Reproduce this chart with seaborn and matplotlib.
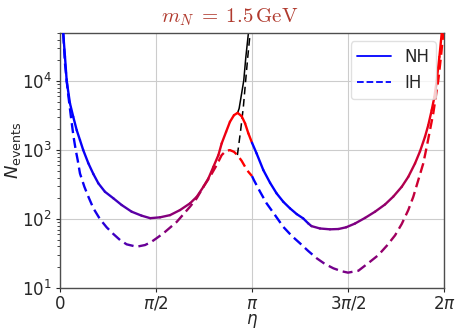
import numpy as np
import matplotlib
matplotlib.use('Agg')
import matplotlib.pyplot as plt
from matplotlib.collections import LineCollection
from matplotlib.lines import Line2D
import seaborn as sns

# ---------------- data (eta given in units of pi) ----------------
# *_mix: colour value, 0 = blue ... 1 = red
nh_a_eta = [0.017, 0.026, 0.035, 0.052, 0.069, 0.087, 0.104, 0.121, 0.148, 0.174, 0.20,
            0.234, 0.278, 0.321, 0.373, 0.425, 0.47, 0.521, 0.573, 0.625, 0.677, 0.712,
            0.747, 0.773, 0.799, 0.825, 0.842, 0.865, 0.885, 0.906, 0.925, 0.946, 0.964,
            0.981, 1.0]
nh_a_n = [49000, 22500, 10000, 4750, 3040, 1950, 1400, 1000, 641, 449, 329,
          249, 200, 160, 128, 112, 103, 106, 114, 135, 169, 210,
          294, 389, 573, 847, 1250, 1840, 2570, 3210, 3470, 3110, 2440,
          1750, 1280]
nh_a_mix = [0.0, 0.0, 0.0, 0.0, 0.0, 0.01, 0.02, 0.03, 0.05, 0.07, 0.10,
            0.15, 0.22, 0.28, 0.33, 0.39, 0.44, 0.49, 0.53, 0.57, 0.62, 0.67,
            0.72, 0.76, 0.80, 0.86, 0.90, 0.94, 0.97, 0.99, 1.0, 1.0, 1.0,
            1.0, 1.0]

nh_b_eta = [1.0, 1.024, 1.059, 1.094, 1.128, 1.163, 1.198, 1.233, 1.267, 1.293, 1.31,
            1.354, 1.406, 1.45, 1.49, 1.536, 1.589, 1.641, 1.693, 1.736, 1.78, 1.814,
            1.849, 1.875, 1.901, 1.918, 1.936, 1.95, 1.962, 1.976, 1.988]
nh_b_n = [1280, 895, 513, 336, 236, 178, 143, 118, 102, 86.5, 79,
          73, 71, 71.7, 75.9, 86, 104, 128, 163, 212, 294, 410,
          641, 960, 1560, 2300, 3800, 5920, 10200, 22500, 49000]
nh_b_mix = [0.0, 0.0, 0.0, 0.0, 0.0, 0.01, 0.02, 0.03, 0.05, 0.07, 0.42,
            0.43, 0.45, 0.46, 0.48, 0.49, 0.51, 0.54, 0.57, 0.62, 0.67, 0.72,
            0.78, 0.83, 0.87, 0.90, 0.94, 0.96, 0.98, 0.99, 1.0]

ih_a_eta = [0.017, 0.026, 0.04, 0.057, 0.07, 0.082, 0.092, 0.104, 0.127, 0.148, 0.174,
            0.208, 0.243, 0.278, 0.313, 0.347, 0.399, 0.443, 0.475, 0.50, 0.538, 0.608,
            0.677, 0.712, 0.747, 0.781, 0.816, 0.842, 0.865, 0.885, 0.906, 0.924, 0.946,
            0.964, 0.981, 1.0]
ih_a_n = [49000, 18000, 7400, 3040, 1600, 1000, 720, 459, 294, 210, 143,
          100, 75.9, 60.7, 49.6, 43, 39.7, 42, 46.5, 52, 62, 91,
          151, 200, 294, 410, 607, 847, 978, 1000, 946, 847, 700,
          573, 485, 420]
ih_a_mix = [0.0, 0.0, 0.0, 0.0, 0.0, 0.01, 0.01, 0.02, 0.04, 0.05, 0.07,
            0.11, 0.17, 0.22, 0.27, 0.31, 0.37, 0.42, 0.45, 0.47, 0.50, 0.56,
            0.62, 0.67, 0.72, 0.78, 0.84, 0.90, 0.94, 0.97, 0.99, 1.0, 1.0,
            1.0, 1.0, 1.0]

ih_b_eta = [1.0, 1.01, 1.042, 1.076, 1.12, 1.163, 1.207, 1.25, 1.293, 1.337, 1.38,
            1.424, 1.467, 1.50, 1.554, 1.606, 1.658, 1.702, 1.745, 1.78, 1.814, 1.84,
            1.866, 1.892, 1.91, 1.927, 1.944, 1.957, 1.97, 1.984, 1.996]
ih_b_n = [420, 367, 249, 169, 114, 77, 57, 44.5, 34.4, 27, 22.3,
          19.3, 17.5, 16.7, 17.8, 23, 30, 41, 58, 85, 135, 210,
          367, 641, 1117, 1950, 3400, 5920, 10200, 22500, 49000]
ih_b_mix = [0.0, 0.0, 0.0, 0.0, 0.0, 0.01, 0.02, 0.04, 0.07, 0.42, 0.43,
            0.45, 0.46, 0.48, 0.50, 0.52, 0.55, 0.59, 0.63, 0.67, 0.72, 0.76,
            0.81, 0.86, 0.89, 0.92, 0.95, 0.97, 0.98, 0.99, 1.0]

blk_solid_eta = [0.925, 0.933, 0.946, 0.957, 0.968, 0.981]
blk_solid_n = [3470, 4020, 6640, 10200, 22500, 49000]
blk_dash_eta = [0.924, 0.941, 0.955, 0.967, 0.978, 0.99]
blk_dash_n = [847, 1950, 4250, 10200, 22500, 49000]

xtick_vals = [0, 0.5, 1, 1.5, 2]
xtick_labels = ['0', r'$\pi/2$', r'$\pi$', r'$3\pi/2$', r'$2\pi$']

# ---------------- style ----------------
sns.set_style('whitegrid', {
    'axes.edgecolor': '0.3', 'grid.color': '0.8',
    'xtick.bottom': True, 'ytick.left': True,
    'xtick.direction': 'out', 'ytick.direction': 'out',
})
plt.rcParams['font.family'] = ['DejaVu Sans']
plt.rcParams['axes.linewidth'] = 1.0
plt.rcParams['grid.linewidth'] = 0.8

W, H = 457, 329
fig = plt.figure(figsize=(W / 100, H / 100), dpi=100)
ax = fig.add_axes([60 / W, 41 / H, 384 / W, 255 / H])
ax.set_yscale('log')
ax.set_xlim(0, 2 * np.pi)
ax.set_ylim(10, 5e4)


def colour(c):
    c = float(np.clip(c, 0, 1))
    return (c, 0.0, 1.0 - c)


def solid(eta_pi, n, mix, lw=1.7):
    x = np.asarray(eta_pi) * np.pi
    y = np.asarray(n, float)
    m = np.asarray(mix, float)
    pts = np.column_stack([x, y])
    segs = np.stack([pts[:-1], pts[1:]], axis=1)
    mids = (m[:-1] + m[1:]) / 2
    lc = LineCollection(segs, colors=[colour(c) for c in mids], linewidths=lw,
                        capstyle='round', joinstyle='round', zorder=3)
    ax.add_collection(lc)


def dashed(eta_pi, n, mix, on=10.0, off=5.0, lw=1.7):
    x = np.asarray(eta_pi) * np.pi
    y = np.asarray(n, float)
    m = np.asarray(mix, float)
    disp = ax.transData.transform(np.column_stack([x, y]))
    d = np.r_[0, np.cumsum(np.hypot(*np.diff(disp, axis=0).T))]
    inv = ax.transData.inverted()
    segs, cols = [], []
    s = 0.0
    while s < d[-1]:
        e = min(s + on, d[-1])
        inner = disp[(d > s) & (d < e)]
        p0 = [np.interp(s, d, disp[:, 0]), np.interp(s, d, disp[:, 1])]
        p1 = [np.interp(e, d, disp[:, 0]), np.interp(e, d, disp[:, 1])]
        path = np.vstack([p0, inner, p1]) if len(inner) else np.vstack([p0, p1])
        segs.append(inv.transform(path))
        cols.append(colour(np.interp((s + e) / 2, d, m)))
        s += on + off
    lc = LineCollection(segs, colors=cols, linewidths=lw, capstyle='butt',
                        joinstyle='round', zorder=3)
    ax.add_collection(lc)


# black branches
sns.lineplot(x=np.asarray(blk_solid_eta) * np.pi, y=blk_solid_n, color='k', lw=1.1,
             ax=ax, zorder=2)
sns.lineplot(x=np.asarray(blk_dash_eta) * np.pi, y=blk_dash_n, color='k', lw=1.1,
             linestyle=(0, (5, 3)), ax=ax, zorder=2)

solid(nh_a_eta, nh_a_n, nh_a_mix)
solid(nh_b_eta, nh_b_n, nh_b_mix)
dashed(ih_a_eta, ih_a_n, ih_a_mix)
dashed(ih_b_eta, ih_b_n, ih_b_mix)

ax.set_xlim(0, 2 * np.pi)
ax.set_ylim(10, 5e4)
ax.set_xticks([v * np.pi for v in xtick_vals])
ax.set_xticklabels(xtick_labels)
ax.tick_params(axis='both', which='major', labelsize=12, length=3, width=0.8, pad=3)
ax.tick_params(axis='x', which='major', pad=2)
ax.tick_params(axis='y', which='minor', length=2, width=0.6, left=True)
ax.grid(True, which='major')
ax.grid(False, which='minor')

ax.set_xlabel(r'$\eta$', fontsize=12)
ax.xaxis.set_label_coords(0.5, -0.093)
ax.set_ylabel(r'$N_{\rm events}$', fontsize=13)
ax.yaxis.set_label_coords(-0.096, 0.54)
fig.text(230 / W, 1 - 22 / H, r'$m_N \;=\; 1.5\,\mathrm{GeV}$', color='#b03a2e',
         fontsize=15, math_fontfamily='cm', ha='center', va='baseline')

handles = [Line2D([], [], color='blue', lw=1.3, ls='-'),
           Line2D([], [], color='blue', lw=1.3, ls='--')]
ax.legend(handles, ['NH', 'IH'], loc='upper right', fontsize=12, frameon=True,
          framealpha=0.8, edgecolor='0.85')

fig.savefig('out.png', dpi=100)
